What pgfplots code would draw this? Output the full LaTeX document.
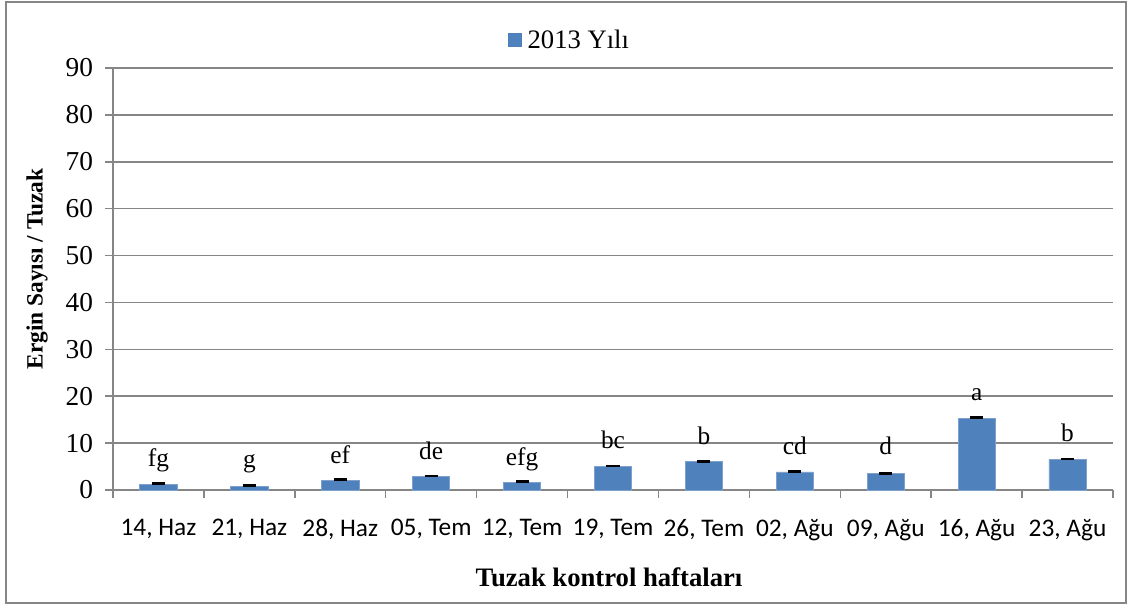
\documentclass[border=0pt]{standalone}
\usepackage{fontspec}
\setmainfont{Liberation Serif}
\newfontfamily\calibri{Carlito}
\usepackage{pgfplots}
\usepackage{pgfplotstable}
\pgfplotsset{compat=1.18}
\definecolor{barblue}{RGB}{79,129,189}
\definecolor{baredge}{RGB}{125,160,205}
\definecolor{gridgray}{RGB}{134,134,134}
\pgfplotstableread{
x y e
0 1.20 0.12
1 0.85 0.12
2 2.10 0.12
3 2.85 0.12
4 1.65 0.12
5 5.00 0.12
6 6.00 0.12
7 3.85 0.12
8 3.45 0.12
9 15.30 0.12
10 6.50 0.12
}\datatable
\newcommand{\lbl}{\fontsize{19}{19}\selectfont}
\begin{document}
\begin{tikzpicture}
\useasboundingbox (-84.75pt,-88.5pt) rectangle (763.5pt,367.5pt);
\draw[gridgray, line width=1.5pt] (-80.25pt,-84.75pt) rectangle (759.75pt,366pt);
\begin{axis}[
  at={(0pt,0pt)}, anchor=south west,
  scale only axis, width=750pt, height=316.5pt,
  xmin=-0.5, xmax=10.5, ymin=0, ymax=90,
  ytick={0,10,...,90},
  xtick={-0.5,0.5,...,10.5},
  xticklabels={{14, Haz},{21, Haz},{28, Haz},{05, Tem},{12, Tem},{19, Tem},{26, Tem},{02, Ağu},{09, Ağu},{16, Ağu},{23, Ağu},{}},
  xticklabel style={xshift=34.09pt, font=\calibri\fontsize{19}{19}\selectfont, yshift=-12.5pt},
  yticklabel style={font=\fontsize{20.5}{20.5}\selectfont, xshift=-5.5pt},
  /pgf/number format/assume math mode=true,
  axis lines=left, axis line style={-, draw=gridgray, line width=1.1pt},
  tick align=outside, major tick length=6pt,
  tick style={draw=gridgray, line width=1.1pt},
  ymajorgrids, grid style={draw=gridgray, line width=1.1pt},
  xlabel={Tuzak kontrol haftaları},
  ylabel={Ergin Sayısı / Tuzak},
  xlabel style={font=\bfseries\fontsize{20}{20}\selectfont, at={(axis description cs:0.496,-0.206)}, anchor=center},
  ylabel style={font=\bfseries\fontsize{17.5}{17.5}\selectfont, at={(axis description cs:-0.076,0.524)}, anchor=center},
  legend style={draw=none, fill=none, at={(axis description cs:0.457,1.066)}, anchor=center, font=\fontsize{20}{20}\selectfont},
  legend image code/.code={\draw[fill=barblue, draw=none] (0pt,-5.25pt) rectangle (10.5pt,5.25pt);},
  clip=false,
]
\addplot[ybar, bar width=0.41, fill=barblue, draw=baredge, line width=0.6pt,
  error bars/.cd, y dir=plus, y explicit,
  error bar style={black, line width=2pt},
  error mark options={rotate=90, mark size=4.9pt, black, line width=2pt}]
  table[x=x, y=y, y error=e]{\datatable};
\addlegendentry{\hspace{2pt}2013 Yılı}
\node[font=\lbl, anchor=base] at (axis cs:0,5.0) {fg};
\node[font=\lbl, anchor=base] at (axis cs:1,4.7) {g};
\node[font=\lbl, anchor=base] at (axis cs:2,5.7) {ef};
\node[font=\lbl, anchor=base] at (axis cs:3,6.4) {de};
\node[font=\lbl, anchor=base] at (axis cs:4,5.3) {efg};
\node[font=\lbl, anchor=base] at (axis cs:5,8.9) {bc};
\node[font=\lbl, anchor=base] at (axis cs:6,9.6) {b};
\node[font=\lbl, anchor=base] at (axis cs:7,7.5) {cd};
\node[font=\lbl, anchor=base] at (axis cs:8,7.5) {d};
\node[font=\lbl, anchor=base] at (axis cs:9,19.0) {a};
\node[font=\lbl, anchor=base] at (axis cs:10,10.3) {b};
\end{axis}
\end{tikzpicture}
\end{document}
